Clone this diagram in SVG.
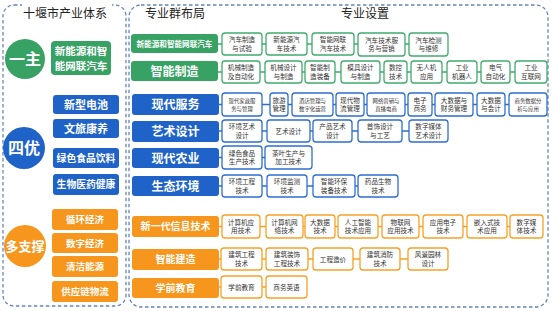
<svg xmlns="http://www.w3.org/2000/svg" width="553" height="311" viewBox="0 0 553 311">
<style>
text{font-family:"Noto Sans CJK SC","Noto Sans",sans-serif;text-anchor:middle}
.panel{fill:none;stroke:#6584b8;stroke-width:1.3;stroke-dasharray:3.5 2.5}
.title{font-size:12px;fill:#222}
.g{fill:#38a265}.b{fill:#1f63c8}.o{fill:#f7961c}
.wt{fill:#fff;font-weight:bold}
.ig{fill:#fff;stroke:#3fab6d;stroke-width:1.3}
.ib{fill:#fff;stroke:#2f6ed0;stroke-width:1.3}
.io{fill:#fff;stroke:#f6a126;stroke-width:1.3}
.it{font-size:6.6px;fill:#333}
.sm{font-size:5.4px}
.cg{stroke:#3fab6d;stroke-width:1.5}
.cb{stroke:#2f6ed0;stroke-width:1.5}
.co{stroke:#f6a126;stroke-width:1.5}
</style>
<rect width="553" height="311" fill="#fff"/>
<!-- panels -->
<rect class="panel" x="3" y="5" width="123" height="301" rx="11"/>
<rect x="22" y="1" width="90" height="18" fill="#fff"/>
<text class="title" x="65" y="18">十堰市产业体系</text>
<rect class="panel" x="129" y="5" width="419" height="302" rx="12"/>
<text class="title" x="175" y="18">专业群布局</text>
<text class="title" x="365" y="18">专业设置</text>

<!-- left panel -->
<g id="yizhu"><circle class="g" cx="25" cy="59" r="20"/><text class="wt" x="25" y="65" font-size="16">一主</text></g>
<g id="l-xny"><rect class="g" x="51" y="41" width="60" height="34" rx="4"/><text class="wt" x="81" y="54.5" font-size="10.5">新能源和智</text><text class="wt" x="81" y="69.5" font-size="10.5">能网联汽车</text></g>
<g id="siyou"><circle class="b" cx="24" cy="148" r="21"/><text class="wt" x="24" y="154" font-size="16">四优</text></g>
<g id="l-dc"><rect class="b" x="53" y="95" width="66" height="19" rx="3"/><text class="wt" x="86" y="108.5" font-size="11">新型电池</text></g>
<g id="l-wl"><rect class="b" x="53" y="119" width="66" height="19" rx="3"/><text class="wt" x="86" y="132.5" font-size="11">文旅康养</text></g>
<g id="l-sp"><rect class="b" x="53" y="148" width="66" height="20" rx="3"/><text class="wt" x="86" y="161.5" font-size="9.8">绿色食品饮料</text></g>
<g id="l-yy"><rect class="b" x="53" y="174" width="66" height="21" rx="3"/><text class="wt" x="86" y="188" font-size="9.8">生物医药健康</text></g>
<g id="duozhicheng"><circle class="o" cx="25" cy="246" r="21"/><text class="wt" x="25" y="250.5" font-size="13">多支撑</text></g>
<g id="l-xh"><rect class="o" x="52" y="209" width="66" height="21" rx="3"/><text class="wt" x="85" y="223" font-size="9.5">循环经济</text></g>
<g id="l-sz"><rect class="o" x="52" y="233" width="66" height="20" rx="3"/><text class="wt" x="85" y="246.5" font-size="9.5">数字经济</text></g>
<g id="l-qj"><rect class="o" x="52" y="256" width="66" height="21" rx="3"/><text class="wt" x="85" y="270" font-size="9.5">清洁能源</text></g>
<g id="l-gy"><rect class="o" x="52" y="281" width="66" height="21" rx="3"/><text class="wt" x="85" y="295" font-size="9.5">供应链物流</text></g>

<!-- connectors -->
<g id="connectors">
<line class="cg" x1="218" y1="44" x2="430" y2="44"/>
<line class="cg" x1="218" y1="72" x2="530" y2="72"/>
<line class="cb" x1="219" y1="104.5" x2="530" y2="104.5"/>
<line class="cb" x1="219" y1="131" x2="430" y2="131"/>
<line class="cb" x1="219" y1="157.5" x2="290" y2="157.5"/>
<line class="cb" x1="219" y1="186" x2="380" y2="186"/>
<line class="co" x1="219" y1="226.5" x2="525" y2="226.5"/>
<line class="co" x1="219" y1="259" x2="430" y2="259"/>
<line class="co" x1="219" y1="287" x2="290" y2="287"/>
</g>

<!-- group boxes -->
<g id="gp-xny"><rect class="g" x="131" y="34" width="87" height="19" rx="3"/><text class="wt" x="174.5" y="46.5" font-size="7.6">新能源和智能网联汽车</text></g>
<g id="gp-zz"><rect class="g" x="131" y="61" width="87" height="20" rx="3"/><text class="wt" x="174.5" y="75.5" font-size="12">智能制造</text></g>
<g id="gp-fw"><rect class="b" x="132" y="94" width="87" height="21" rx="3"/><text class="wt" x="175.5" y="109" font-size="12">现代服务</text></g>
<g id="gp-ys"><rect class="b" x="132" y="121" width="87" height="21" rx="3"/><text class="wt" x="175.5" y="136" font-size="12">艺术设计</text></g>
<g id="gp-ny"><rect class="b" x="132" y="148" width="87" height="20" rx="3"/><text class="wt" x="175.5" y="162.5" font-size="12">现代农业</text></g>
<g id="gp-st"><rect class="b" x="132" y="176" width="87" height="20" rx="3"/><text class="wt" x="175.5" y="190.5" font-size="12">生态环境</text></g>
<g id="gp-xx"><rect class="o" x="132" y="216" width="87" height="21" rx="3"/><text class="wt" x="175.5" y="230" font-size="10">新一代信息技术</text></g>
<g id="gp-jz"><rect class="o" x="132" y="249" width="87" height="21" rx="3"/><text class="wt" x="175.5" y="263" font-size="10">智能建造</text></g>
<g id="gp-xq"><rect class="o" x="132" y="278" width="87" height="20" rx="3"/><text class="wt" x="175.5" y="291.5" font-size="10">学前教育</text></g>

<!-- row 1 -->
<g id="r1a"><rect class="ig" x="222" y="33" width="40" height="22" rx="3"/><text class="it" x="242" y="42.3">汽车制造</text><text class="it" x="242" y="50.8">与试验</text></g>
<g id="r1b"><rect class="ig" x="266" y="33" width="41" height="22" rx="3"/><text class="it" x="286.5" y="42.3">新能源汽</text><text class="it" x="286.5" y="50.8">车技术</text></g>
<g id="r1c"><rect class="ig" x="312" y="33" width="42" height="22" rx="3"/><text class="it" x="333" y="42.3">智能网联</text><text class="it" x="333" y="50.8">汽车技术</text></g>
<g id="r1d"><rect class="ig" x="358" y="33" width="47" height="23" rx="3"/><text class="it" x="381.5" y="42.8">汽车技术服</text><text class="it" x="381.5" y="51.3">务与营销</text></g>
<g id="r1e"><rect class="ig" x="409" y="33" width="39" height="23" rx="3"/><text class="it" x="428.5" y="42.8">汽车检测</text><text class="it" x="428.5" y="51.3">与维修</text></g>
<!-- row 2 -->
<g id="r2a"><rect class="ig" x="222" y="61" width="38" height="22" rx="3"/><text class="it" x="241" y="70.3">机械制造</text><text class="it" x="241" y="78.8">及自动化</text></g>
<g id="r2b"><rect class="ig" x="265" y="61" width="37" height="22" rx="3"/><text class="it" x="283.5" y="70.3">机械设计</text><text class="it" x="283.5" y="78.8">与制造</text></g>
<g id="r2c"><rect class="ig" x="305" y="61" width="30" height="22" rx="3"/><text class="it" x="320" y="70.3">智能制</text><text class="it" x="320" y="78.8">造装备</text></g>
<g id="r2d"><rect class="ig" x="341" y="61" width="39" height="22" rx="3"/><text class="it" x="360.5" y="70.3">模具设计</text><text class="it" x="360.5" y="78.8">与制造</text></g>
<g id="r2e"><rect class="ig" x="384" y="61" width="23" height="22" rx="3"/><text class="it" x="395.5" y="70.3">数控</text><text class="it" x="395.5" y="78.8">技术</text></g>
<g id="r2f"><rect class="ig" x="411" y="61" width="31" height="22" rx="3"/><text class="it" x="426.5" y="70.3">无人机</text><text class="it" x="426.5" y="78.8">应用</text></g>
<g id="r2g"><rect class="ig" x="447" y="61" width="30" height="22" rx="3"/><text class="it" x="462" y="70.3">工业</text><text class="it" x="462" y="78.8">机器人</text></g>
<g id="r2h"><rect class="ig" x="481" y="61" width="29" height="22" rx="3"/><text class="it" x="495.5" y="70.3">电气</text><text class="it" x="495.5" y="78.8">自动化</text></g>
<g id="r2i"><rect class="ig" x="515" y="61" width="32" height="22" rx="3"/><text class="it" x="531" y="70.3">工业</text><text class="it" x="531" y="78.8">互联网</text></g>
<!-- row 3 -->
<g id="r3a"><rect class="ib" x="222" y="93" width="40" height="23" rx="3"/><text class="it sm" x="242" y="102.5">现代家政服</text><text class="it sm" x="242" y="110.5">务与管理</text></g>
<g id="r3b"><rect class="ib" x="270" y="93" width="18" height="23" rx="3"/><text class="it" x="279" y="102.8">旅游</text><text class="it" x="279" y="111.3">管理</text></g>
<g id="r3c"><rect class="ib" x="292" y="93" width="41" height="23" rx="3"/><text class="it sm" x="312.5" y="102.5">酒店管理与</text><text class="it sm" x="312.5" y="110.5">数字化运营</text></g>
<g id="r3d"><rect class="ib" x="336" y="93" width="28" height="23" rx="3"/><text class="it" x="350" y="102.8">现代物</text><text class="it" x="350" y="111.3">流管理</text></g>
<g id="r3e"><rect class="ib" x="367" y="93" width="38" height="23" rx="3"/><text class="it sm" x="386" y="102.5">网络营销与</text><text class="it sm" x="386" y="110.5">直播电商</text></g>
<g id="r3f"><rect class="ib" x="408" y="93" width="24" height="23" rx="3"/><text class="it" x="420" y="102.8">电子</text><text class="it" x="420" y="111.3">商务</text></g>
<g id="r3g"><rect class="ib" x="435" y="93" width="38" height="23" rx="3"/><text class="it" x="454" y="102.8">大数据与</text><text class="it" x="454" y="111.3">财务管理</text></g>
<g id="r3h"><rect class="ib" x="477" y="93" width="28" height="23" rx="3"/><text class="it" x="491" y="102.8">大数据</text><text class="it" x="491" y="111.3">与会计</text></g>
<g id="r3i"><rect class="ib" x="509" y="93" width="38" height="23" rx="3"/><text class="it sm" x="528" y="102.5">商务数据分</text><text class="it sm" x="528" y="110.5">析与应用</text></g>
<!-- row 4 -->
<g id="r4a"><rect class="ib" x="222" y="120" width="40" height="22" rx="3"/><text class="it" x="242" y="129.3">环境艺术</text><text class="it" x="242" y="137.8">设计</text></g>
<g id="r4b"><rect class="ib" x="267" y="120" width="43" height="22" rx="3"/><text class="it" x="288.5" y="133.5">艺术设计</text></g>
<g id="r4c"><rect class="ib" x="313" y="120" width="39" height="22" rx="3"/><text class="it" x="332.5" y="129.3">产品艺术</text><text class="it" x="332.5" y="137.8">设计</text></g>
<g id="r4d"><rect class="ib" x="358" y="120" width="44" height="22" rx="3"/><text class="it" x="380" y="129.3">首饰设计</text><text class="it" x="380" y="137.8">与工艺</text></g>
<g id="r4e"><rect class="ib" x="409" y="120" width="39" height="22" rx="3"/><text class="it" x="428.5" y="129.3">数字媒体</text><text class="it" x="428.5" y="137.8">艺术设计</text></g>
<!-- row 5 -->
<g id="r5a"><rect class="ib" x="222" y="146" width="40" height="23" rx="3"/><text class="it" x="242" y="155.8">绿色食品</text><text class="it" x="242" y="164.3">生产技术</text></g>
<g id="r5b"><rect class="ib" x="265" y="146" width="47" height="23" rx="3"/><text class="it" x="288.5" y="155.8">茶叶生产与</text><text class="it" x="288.5" y="164.3">加工技术</text></g>
<!-- row 6 -->
<g id="r6a"><rect class="ib" x="222" y="175" width="40" height="22" rx="3"/><text class="it" x="242" y="184.3">环境工程</text><text class="it" x="242" y="192.8">技术</text></g>
<g id="r6b"><rect class="ib" x="267" y="175" width="40" height="22" rx="3"/><text class="it" x="287" y="184.3">环境监测</text><text class="it" x="287" y="192.8">技术</text></g>
<g id="r6c"><rect class="ib" x="313" y="175" width="42" height="22" rx="3"/><text class="it" x="334" y="184.3">智能环保</text><text class="it" x="334" y="192.8">装备技术</text></g>
<g id="r6d"><rect class="ib" x="358" y="175" width="40" height="22" rx="3"/><text class="it" x="378" y="184.3">药品生物</text><text class="it" x="378" y="192.8">技术</text></g>
<!-- row 7 -->
<g id="r7a"><rect class="io" x="222" y="215" width="38" height="23" rx="3"/><text class="it" x="241" y="224.8">计算机应</text><text class="it" x="241" y="233.3">用技术</text></g>
<g id="r7b"><rect class="io" x="266" y="215" width="37" height="23" rx="3"/><text class="it" x="284.5" y="224.8">计算机网</text><text class="it" x="284.5" y="233.3">络技术</text></g>
<g id="r7c"><rect class="io" x="305" y="215" width="30" height="23" rx="3"/><text class="it" x="320" y="224.8">大数据</text><text class="it" x="320" y="233.3">技术</text></g>
<g id="r7d"><rect class="io" x="338" y="215" width="40" height="23" rx="3"/><text class="it" x="358" y="224.8">人工智能</text><text class="it" x="358" y="233.3">技术应用</text></g>
<g id="r7e"><rect class="io" x="382" y="215" width="37" height="23" rx="3"/><text class="it" x="400.5" y="224.8">物联网</text><text class="it" x="400.5" y="233.3">应用技术</text></g>
<g id="r7f"><rect class="io" x="423" y="215" width="40" height="23" rx="3"/><text class="it" x="443" y="224.8">应用电子</text><text class="it" x="443" y="233.3">技术</text></g>
<g id="r7g"><rect class="io" x="467" y="215" width="40" height="23" rx="3"/><text class="it" x="487" y="224.8">嵌入式技</text><text class="it" x="487" y="233.3">术应用</text></g>
<g id="r7h"><rect class="io" x="510" y="215" width="33" height="23" rx="3"/><text class="it" x="526.5" y="224.8">数字媒</text><text class="it" x="526.5" y="233.3">体技术</text></g>
<!-- row 8 -->
<g id="r8a"><rect class="io" x="221" y="248" width="41" height="22" rx="3"/><text class="it" x="241.5" y="257.3">建筑工程</text><text class="it" x="241.5" y="265.8">技术</text></g>
<g id="r8b"><rect class="io" x="266" y="248" width="42" height="22" rx="3"/><text class="it" x="287" y="257.3">建筑装饰</text><text class="it" x="287" y="265.8">工程技术</text></g>
<g id="r8c"><rect class="io" x="313" y="248" width="40" height="22" rx="3"/><text class="it" x="333" y="261.5">工程造价</text></g>
<g id="r8d"><rect class="io" x="360" y="248" width="40" height="22" rx="3"/><text class="it" x="380" y="257.3">建筑消防</text><text class="it" x="380" y="265.8">技术</text></g>
<g id="r8e"><rect class="io" x="408" y="248" width="40" height="22" rx="3"/><text class="it" x="428" y="257.3">风景园林</text><text class="it" x="428" y="265.8">设计</text></g>
<!-- row 9 -->
<g id="r9a"><rect class="io" x="221" y="276" width="41" height="22" rx="3"/><text class="it" x="241.5" y="289.5">学前教育</text></g>
<g id="r9b"><rect class="io" x="266" y="276" width="41" height="22" rx="3"/><text class="it" x="286.5" y="289.5">商务英语</text></g>
</svg>
